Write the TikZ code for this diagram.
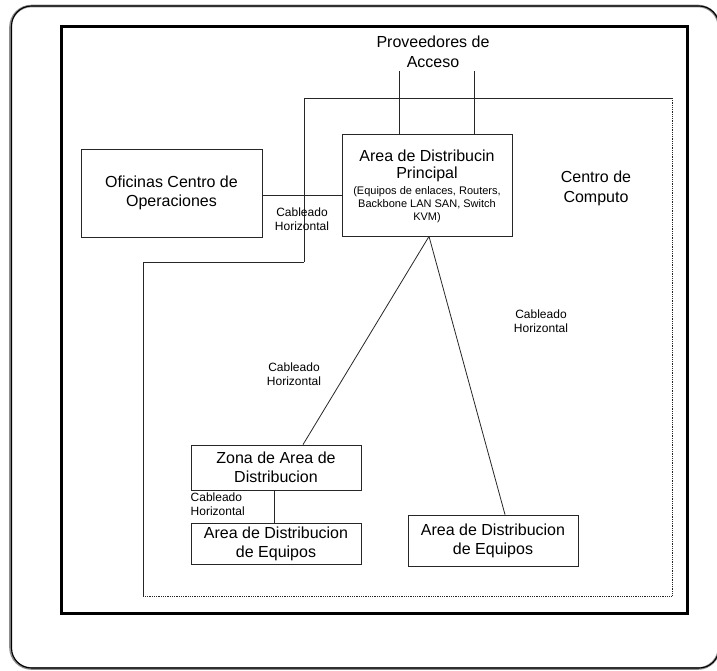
\documentclass[tikz,border=0pt]{standalone}
\usepackage{fontspec}
\setmainfont{Liberation Sans}
\usetikzlibrary{calc}
\tikzset{
  thin line/.style={draw=black!85, line width=0.8pt},
  box/.style={thin line, rectangle, inner sep=0pt, align=center,
    font=\fontsize{16}{19}\selectfont},
  bigtext/.style={align=center, inner sep=0pt, font=\fontsize{16}{20}\selectfont},
  smalltext/.style={align=center, inner sep=0pt, font=\fontsize{12}{14}\selectfont},
  tinytext/.style={align=center, inner sep=0pt, font=\fontsize{11}{13}\selectfont},
}
\begin{document}
\begin{tikzpicture}[x=1pt,y=-1pt]
\useasboundingbox (0,0) rectangle (717,670);

% outer rounded frame (double edge)
\draw[black!45, line width=2.6pt, rounded corners=21pt] (10.5,6) rectangle (719,668.5);
\draw[black, line width=1.1pt, rounded corners=20pt] (11.5,6) rectangle (719,668);

% inner heavy frame
\draw[black, line width=3pt] (61,26) rectangle (687,613);

% computer centre area outline
\coordinate (cc1) at (304,262);
\coordinate (cc2) at (304,98);
\coordinate (cc3) at (672,98);
\coordinate (cc4) at (672,596);
\coordinate (cc5) at (143,596);
\coordinate (cc6) at (143,262);
\draw[thin line] (cc1) -- (cc2) -- (cc3);
\draw[thin line, densely dotted] (cc3) -- (cc4) -- (cc5);
\draw[thin line] (cc5) -- (cc6) -- (cc1);

% boxes
\node[box, minimum width=181pt, minimum height=88pt] (ofi) at (171.5,193)
  {Oficinas Centro de\\Operaciones};
\node[box, minimum width=170pt, minimum height=102pt] (adp) at (427,185) {};
\node[bigtext, font=\fontsize{16}{17.5}\selectfont] (adpt) at (427,166)
  {Area de Distribucin\\Principal};
\node[tinytext] (adps) at (427,205)
  {(Equipos de enlaces, Routers,\\Backbone LAN SAN, Switch\\KVM)};
\node[box, minimum width=170pt, minimum height=45pt] (zona) at (276,467.5)
  {Zona de Area de\\Distribucion};
\node[box, minimum width=170pt, minimum height=41pt] (ade1) at (276,543.5)
  {Area de Distribucion\\de Equipos};
\node[box, minimum width=170pt, minimum height=51pt] (ade2) at (493,540.5)
  {Area de Distribucion\\de Equipos};

% texts
\node[bigtext] (prov) at (433,52) {Proveedores de\\Acceso};
\node[bigtext] (cc) at (596,188) {Centro de\\Computo};
\node[smalltext] (cab1) at (302,219) {Cableado\\Horizontal};
\node[smalltext] (cab2) at (294,374.5) {Cableado\\Horizontal};
\node[smalltext] (cab3) at (541,321.5) {Cableado\\Horizontal};
\node[smalltext, align=left, anchor=west] (cab4) at (190.5,504) {Cableado\\Horizontal};

% connectors
\coordinate (pa) at (399,71);
\coordinate (pb) at (474,71);
\coordinate (apex) at ([xshift=2pt]adp.south);
\draw[thin line] (pa) -- (pa |- adp.north);
\draw[thin line] (pb) -- (pb |- adp.north);
\draw[thin line] ([yshift=-2pt]ofi.east) -- ([yshift=-2pt]ofi.east -| adp.west);
\draw[thin line] (apex) -- ([xshift=27pt]zona.north);
\draw[thin line] (apex) -- ([xshift=12pt]ade2.north);
\draw[thin line] ([xshift=-2pt]zona.south) -- ([xshift=-2pt]ade1.north);
\end{tikzpicture}
\end{document}
